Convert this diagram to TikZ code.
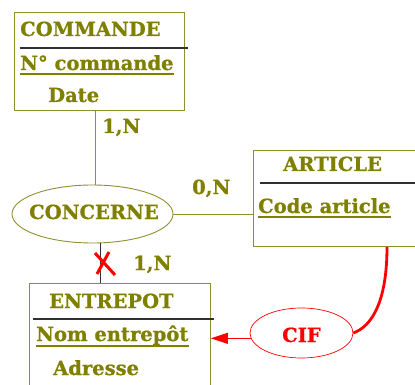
\documentclass[tikz,border=0pt]{standalone}
\usepackage{fontspec}
\setmainfont{DejaVu Serif}[BoldFeatures={FakeBold=0.8}]
\usetikzlibrary{shapes.geometric,arrows.meta,calc}
\definecolor{olivetxt}{HTML}{808000}
\definecolor{oliveline}{HTML}{8F8F2F}
\definecolor{sepgray}{HTML}{303030}
\definecolor{cifred}{HTML}{FF0000}

\begin{document}
\begin{tikzpicture}[x=1pt,y=-1pt,
  lbl/.style={font=\bfseries\fontsize{19.5}{19.5}\selectfont, text=olivetxt,
    inner sep=0pt, anchor=base west},
  entity/.style={draw=oliveline, line width=0.9pt, rectangle, inner sep=0pt,
    anchor=north west},
  relation/.style={draw=oliveline, line width=0.9pt, ellipse, inner sep=0pt},
  link/.style={draw=oliveline, line width=0.9pt},
  sepline/.style={draw=sepgray, line width=1.1pt},
  uline/.style={draw=olivetxt, line width=1.1pt},
  cross/.style={draw=cifred, line width=3pt},
]
\useasboundingbox (0,0) rectangle (415,385);

% entities
\node[entity, minimum width=170pt, minimum height=98pt] (commande) at (14,12) {};
\node[entity, minimum width=175pt, minimum height=96pt] (article) at (253,150) {};
\node[entity, minimum width=181pt, minimum height=120pt] (entrepot) at (29,283) {};

% relations
\node[relation, minimum width=161pt, minimum height=58pt] (concerne) at (92.5,214) {};
\node[relation, draw=cifred, line width=0.7pt, minimum width=103pt, minimum height=50pt] (cif) at (301.5,333) {};

% COMMANDE contents
\node[lbl] (tcommande) at (20,36) {COMMANDE};
\draw[sepline] (20,48) -- (188,48);
\node[lbl] (ncommande) at (20,70) {N° commande};
\draw[uline] ([yshift=-4pt]ncommande.base west) -- ([yshift=-4pt]ncommande.base east);
\node[lbl] (date) at (48,102) {Date};

% ARTICLE contents
\node[lbl] (tarticle) at (283,171) {ARTICLE};
\draw[sepline] (260,183) -- (415,183);
\node[lbl] (codearticle) at (258,213) {Code article};
\draw[uline] ([yshift=-4pt]codearticle.base west) -- ([yshift=-4pt]codearticle.base east);

% ENTREPOT contents
\node[lbl] (tentrepot) at (49,308) {ENTREPOT};
\draw[sepline] (33,319) -- (214,319);
\node[lbl] (nomentrepot) at (36,341) {Nom entrepôt};
\draw[uline] ([yshift=-5pt]nomentrepot.base west) -- ([yshift=-5pt]nomentrepot.base east);
\node[lbl] (adresse) at (53,375) {Adresse};

% relation labels
\node[lbl] (tconcerne) at (29,219) {CONCERNE};
\node[lbl, text=cifred] (tcif) at (282,342) {CIF};

% cardinalities
\node[lbl] (card1) at (102,133) {1,N};
\node[lbl] (card2) at (192,194) {0,N};
\node[lbl] (card3) at (133,270) {1,N};

% links of CONCERNE
\draw[link] (concerne.85) -- (concerne.85 |- commande.south);
\draw[link] (concerne.east) -- (concerne.east -| article.west);
\draw[draw=sepgray, line width=0.9pt] (concerne.-75) -- (concerne.-75 |- entrepot.north);

% crossed-out link
\draw[cross] (95,253) -- (115,275);
\draw[cross] (109,252) -- (97,274);

% CIF dependency
\draw[draw=cifred, line width=1pt, -{Triangle[length=17pt,width=11pt]}]
  (cif.186) -- (cif.186 -| entrepot.east);
\draw[draw=cifred, line width=2.8pt]
  ($(article.south west)+(134,0)$) .. controls +(0,54) and +(19,-7) .. (cif.east);
\end{tikzpicture}
\end{document}
